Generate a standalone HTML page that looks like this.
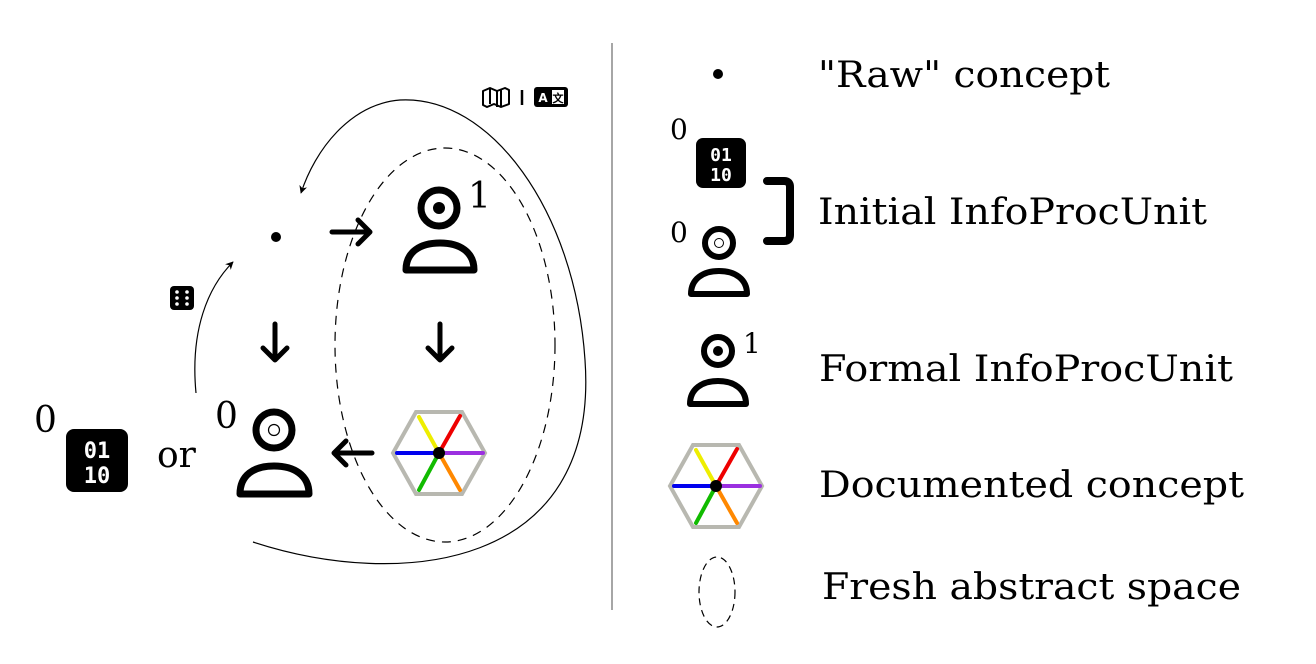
<!DOCTYPE html>
<html><head><meta charset="utf-8"><style>html,body{margin:0;padding:0;background:#fff}svg{display:block}text{font-family:"DejaVu Serif","Liberation Serif",serif;fill:#000}</style></head><body>
<svg width="1316" height="664" viewBox="0 0 1316 664" xmlns="http://www.w3.org/2000/svg">
<defs>
<marker id="ah" viewBox="0 0 10 10" refX="9" refY="5" markerWidth="8" markerHeight="8" orient="auto" markerUnits="userSpaceOnUse"><path d="M0,0 L10,5 L0,10 L3,5z" fill="#000"/></marker>
<g id="hex">
<polygon points="-46,0 -23,-41 23,-41 46,0 23,41 -23,41" fill="none" stroke="#b8b8b0" stroke-width="4"/>
<g stroke-width="4" stroke-linecap="round">
<line x1="0" y1="0" x2="-42" y2="0" stroke="#0000ee"/>
<line x1="0" y1="0" x2="44" y2="0" stroke="#9b30e0"/>
<line x1="0" y1="0" x2="-20" y2="-36" stroke="#eeee00"/>
<line x1="0" y1="0" x2="21" y2="-37" stroke="#ee0000"/>
<line x1="0" y1="0" x2="-20" y2="37" stroke="#11bb00"/>
<line x1="0" y1="0" x2="21" y2="37" stroke="#ff8800"/>
</g>
<circle r="6" fill="#000"/>
</g>
</defs>
<line x1="612" y1="43" x2="612" y2="610" stroke="#888" stroke-width="1.5"/>
<!-- big dashed ellipse -->
<ellipse cx="445" cy="345" rx="110" ry="197" fill="none" stroke="#000" stroke-width="1.2" stroke-dasharray="9,7"/>
<!-- curves -->
<path d="M253,542 C400,590 600,570 585,360 C575,210 490,95 400,100 C350,104 315,150 301,193" fill="none" stroke="#000" stroke-width="1.2" marker-end="url(#ah)"/>
<path d="M196,393 C190,330 208,287 233,262" fill="none" stroke="#000" stroke-width="1.2" marker-end="url(#ah)"/>
<!-- raw dot -->
<circle cx="276" cy="237" r="5" fill="#000"/>
<!-- arrows -->
<g stroke="#000" stroke-width="5" fill="none" stroke-linecap="round" stroke-linejoin="round">
<path d="M332,232 H370 M358,220 L370,232 L358,244"/>
<path d="M275,324 V360 M263,348 L275,360 L287,348"/>
<path d="M440,324 V360 M428,348 L440,360 L452,348"/>
<path d="M372,453 H334 M346,441 L334,453 L346,465"/>
</g>
<!-- formal person top -->
<g stroke="#000" stroke-width="7" fill="none">
<circle cx="439" cy="208" r="18"/>
<path d="M406,270 C406,252 420,243 440,243 C460,243 474,252 474,270 Z" stroke-linejoin="round"/>
</g>
<circle cx="439" cy="208" r="6" fill="#000"/>
<text x="468" y="208" font-size="36">1</text>
<!-- hexagon -->
<use href="#hex" x="439" y="453"/>
<!-- initial person -->
<g stroke="#000" stroke-width="7" fill="none">
<circle cx="274" cy="430" r="18"/>
<path d="M240,494 C240,475 254,466 274,466 C294,466 309,475 309,494 Z" stroke-linejoin="round"/>
</g>
<circle cx="274" cy="430" r="5.5" fill="none" stroke="#000" stroke-width="1.2"/>
<text x="215" y="428" font-size="36">0</text>
<text x="157" y="467" font-size="36">or</text>
<!-- binary box -->
<rect x="66" y="429" width="62" height="63" rx="8" fill="#000"/>
<text x="97" y="458" font-size="22" font-weight="bold" text-anchor="middle" style="font-family:'DejaVu Sans Mono','Liberation Mono',monospace;fill:#fff">01</text>
<text x="97" y="483" font-size="22" font-weight="bold" text-anchor="middle" style="font-family:'DejaVu Sans Mono','Liberation Mono',monospace;fill:#fff">10</text>
<text x="34" y="432" font-size="36">0</text>
<!-- dice -->
<rect x="170" y="286" width="24" height="24" rx="4" fill="#000"/>
<g fill="#fff"><circle cx="177" cy="292" r="1.8"/><circle cx="177" cy="298" r="1.8"/><circle cx="177" cy="304" r="1.8"/><circle cx="187" cy="292" r="1.8"/><circle cx="187" cy="298" r="1.8"/><circle cx="187" cy="304" r="1.8"/></g>
<!-- map icon -->
<path d="M483,91 L490,88 L497,91 L505,88 L509,90 L509,104 L501,107 L494,104 L487,107 L483,105 Z M490,88 V104 M497,91 V107 M501,90 V106" fill="none" stroke="#000" stroke-width="2" stroke-linejoin="round"/>
<line x1="522" y1="90" x2="522" y2="105" stroke="#000" stroke-width="2.5"/>
<rect x="534" y="87" width="34" height="20" rx="3" fill="#000"/>
<text x="543" y="102" font-size="12" font-weight="bold" text-anchor="middle" style="font-family:'DejaVu Sans',sans-serif;fill:#fff">A</text>
<rect x="552" y="90" width="12" height="14" fill="#fff"/>
<text x="558" y="102" font-size="11" font-weight="bold" text-anchor="middle" style="font-family:'DejaVu Sans',sans-serif;fill:#000">文</text>
<!-- legend -->
<circle cx="718" cy="74" r="5" fill="#000"/>
<text x="818" y="87" font-size="36" textLength="292" lengthAdjust="spacingAndGlyphs">"Raw" concept</text>
<text x="670" y="139" font-size="28">0</text>
<rect x="696" y="138" width="50" height="50" rx="7" fill="#000"/>
<text x="721" y="161" font-size="18" font-weight="bold" text-anchor="middle" style="font-family:'DejaVu Sans Mono','Liberation Mono',monospace;fill:#fff">01</text>
<text x="721" y="181" font-size="18" font-weight="bold" text-anchor="middle" style="font-family:'DejaVu Sans Mono','Liberation Mono',monospace;fill:#fff">10</text>
<path d="M767,181 H784 Q790,181 790,187 V235 Q790,241 784,241 H767" fill="none" stroke="#000" stroke-width="8" stroke-linecap="round"/>
<text x="670" y="242" font-size="28">0</text>
<g stroke="#000" stroke-width="6" fill="none">
<circle cx="719" cy="243" r="14"/>
<path d="M691,294 C691,279 703,271 719,271 C735,271 747,279 747,294 Z" stroke-linejoin="round"/>
</g>
<circle cx="719" cy="243" r="4.5" fill="none" stroke="#000" stroke-width="1"/>
<text x="818" y="224" font-size="36" textLength="389" lengthAdjust="spacingAndGlyphs">Initial InfoProcUnit</text>
<g stroke="#000" stroke-width="6" fill="none">
<circle cx="718" cy="351" r="14"/>
<path d="M690,404 C690,389 702,381 718,381 C734,381 746,389 746,404 Z" stroke-linejoin="round"/>
</g>
<circle cx="718" cy="351" r="5" fill="#000"/>
<text x="743" y="353" font-size="28">1</text>
<text x="819" y="381" font-size="36" textLength="414" lengthAdjust="spacingAndGlyphs">Formal InfoProcUnit</text>
<use href="#hex" x="716" y="486"/>
<text x="819" y="497" font-size="36" textLength="425" lengthAdjust="spacingAndGlyphs">Documented concept</text>
<ellipse cx="717" cy="592" rx="18" ry="35" fill="none" stroke="#000" stroke-width="1.2" stroke-dasharray="7,5"/>
<text x="822" y="599" font-size="36" textLength="419" lengthAdjust="spacingAndGlyphs">Fresh abstract space</text>
</svg>
</body></html>
